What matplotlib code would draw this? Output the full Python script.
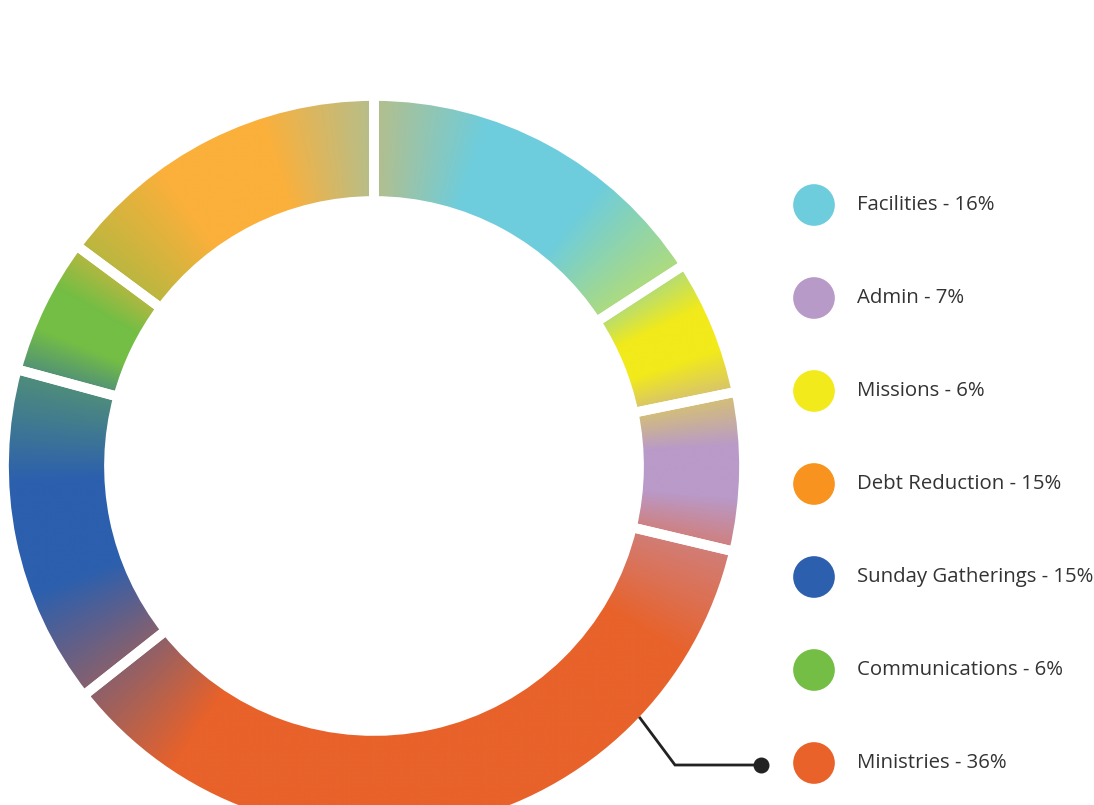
import numpy as np
import matplotlib.pyplot as plt
from matplotlib.colors import LinearSegmentedColormap, to_rgb
from matplotlib.patches import Wedge

# Datos (orden del anillo, en sentido horario desde arriba)
ring_labels = ['Facilities', 'Missions', 'Admin', 'Ministries',
               'Sunday Gatherings', 'Communications', 'Debt Reduction']
ring_values = [16, 6, 7, 36, 15, 6, 15]
ring_colors = ['#6ECDDC', '#F2EA1A', '#B99AC9', '#E8622A',
               '#2C5FAE', '#74BE45', '#FBB03B']

# Leyenda (orden de la imagen)
legend_labels = ['Facilities - 16%', 'Admin - 7%', 'Missions - 6%',
                 'Debt Reduction - 15%', 'Sunday Gatherings - 15%',
                 'Communications - 6%', 'Ministries - 36%']
legend_colors = ['#6ECDDC', '#B79AC8', '#F2EA1A', '#F7931E',
                 '#2C5FAE', '#74BE45', '#E8622A']

W, H = 1094, 805
fig = plt.figure(figsize=(W / 100, H / 100), dpi=100)
ax = fig.add_axes([0, 0, 1, 1])

cx, cy = 374, H - 466
r_out, r_in = 370, 265

# Colormap angular con mezcla cerca de cada borde
fr = np.array(ring_values, float) / sum(ring_values)
edges = np.concatenate([[0], np.cumsum(fr)])
n = len(fr)
stops = []
for i in range(n):
    c = np.array(to_rgb(ring_colors[i]))
    prev = np.array(to_rgb(ring_colors[i - 1]))
    s, e = edges[i], edges[i + 1]
    w = min(0.05, (e - s) / 3)
    stops.append((s, (c + prev) / 2))
    stops.append((s + w, c))
    stops.append((e - w, c))
stops.append((1.0, (np.array(to_rgb(ring_colors[-1])) + np.array(to_rgb(ring_colors[0]))) / 2))
cmap = LinearSegmentedColormap.from_list('ring', stops, N=1024)

xs = np.linspace(cx - r_out, cx + r_out, 800)
ys = np.linspace(cy - r_out, cy + r_out, 800)
X, Y = np.meshgrid(xs, ys)
ang = (np.arctan2(X - cx, Y - cy) % (2 * np.pi)) / (2 * np.pi)
img = ax.imshow(ang, cmap=cmap, vmin=0, vmax=1, origin='lower',
                extent=(cx - r_out, cx + r_out, cy - r_out, cy + r_out),
                interpolation='bilinear', zorder=1)
ring = Wedge((cx, cy), r_out, 0, 360, width=r_out - r_in, transform=ax.transData)
img.set_clip_path(ring)

# Separaciones blancas entre segmentos
ax.pie(ring_values, center=(cx, cy), radius=r_out, startangle=90, counterclock=False,
       colors=['none'] * n, frame=True,
       wedgeprops=dict(width=r_out - r_in, edgecolor='white', linewidth=7))
ax.set_xlim(0, W)
ax.set_ylim(0, H)
ax.set_aspect('equal')
ax.axis('off')

# Leyenda
ly = [H - (205 + 93 * i) for i in range(len(legend_labels))]
ax.scatter([814] * len(ly), ly, s=900, c=legend_colors, edgecolors='none', zorder=3)
for y, lab in zip(ly, legend_labels):
    ax.text(857, y, lab, fontsize=14.7, family='Open Sans', color='#333333',
            va='center', ha='left')

# Conector a Ministries
ax.plot([640, 675, 760], [H - 718, H - 765, H - 765], color='#222222', lw=2,
        solid_joinstyle='miter', zorder=3)
ax.scatter([761], [H - 765], s=110, color='#222222', zorder=4)

plt.savefig('out.png', dpi=100)
